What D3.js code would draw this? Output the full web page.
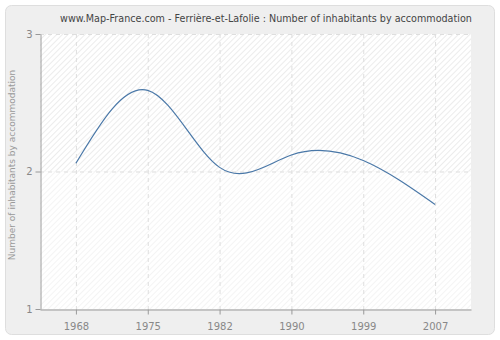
<!DOCTYPE html>
<html>
<head>
<meta charset="utf-8">
<script src="https://cdn.jsdelivr.net/npm/d3@7"></script>
<style>
  body { margin: 0; background: #fff; }
  svg text { font-family: "DejaVu Sans", sans-serif; }
</style>
</head>
<body>
<div id="chart"></div>
<script>
// data
const years = ["1968", "1975", "1982", "1990", "1999", "2007"];
const values = [2.06, 2.59, 2.03, 2.12, 2.08, 1.76];
const yTicks = [1, 2, 3];

const width = 500, height = 340;
const margin = { top: 34, right: 29, bottom: 31, left: 40 };

const svg = d3.select("#chart")
  .append("svg")
  .attr("width", width)
  .attr("height", height);

// outer panel
svg.append("rect")
  .attr("x", 5.5).attr("y", 5.5)
  .attr("width", 489).attr("height", 329)
  .attr("rx", 6)
  .attr("fill", "#efefef")
  .attr("stroke", "#dedede");

// hatch patterns for the plot background
const defs = svg.append("defs");
function hatch(id, color) {
  const p = defs.append("pattern")
    .attr("id", id)
    .attr("patternUnits", "userSpaceOnUse")
    .attr("width", 4).attr("height", 4)
    .attr("patternTransform", "rotate(45)");
  p.append("rect").attr("width", 4).attr("height", 4).attr("fill", "#fff");
  p.append("line")
    .attr("x1", 0).attr("y1", 0).attr("x2", 0).attr("y2", 4)
    .attr("stroke", color).attr("stroke-width", 1.3);
}
hatch("hatchTop", "#e3e3e3");
hatch("hatchBot", "#efefef");

const x = d3.scalePoint()
  .domain(years)
  .range([margin.left, width - margin.right])
  .padding(0.5);

const y = d3.scaleLinear()
  .domain([1, 3])
  .range([height - margin.bottom, margin.top]);

const plotW = width - margin.right - margin.left;

// background: above 2 and below 2
svg.append("rect")
  .attr("x", margin.left).attr("y", y(3))
  .attr("width", plotW).attr("height", y(2) - y(3))
  .attr("fill", "url(#hatchTop)");
svg.append("rect")
  .attr("x", margin.left).attr("y", y(2))
  .attr("width", plotW).attr("height", y(1) - y(2))
  .attr("fill", "url(#hatchBot)");

// grid lines
const grid = svg.append("g").attr("stroke", "#dedede").attr("stroke-dasharray", "4,4");
grid.selectAll("line.v")
  .data(years)
  .enter().append("line")
  .attr("class", "v")
  .attr("x1", d => x(d) + 0.5).attr("x2", d => x(d) + 0.5)
  .attr("y1", y(3)).attr("y2", y(1));
grid.selectAll("line.h")
  .data(yTicks.slice(1))
  .enter().append("line")
  .attr("class", "h")
  .attr("x1", margin.left).attr("x2", width - margin.right)
  .attr("y1", d => y(d) + 0.5).attr("y2", d => y(d) + 0.5);

// the line
const line = d3.line()
  .x((d, i) => x(years[i]))
  .y(d => y(d))
  .curve(d3.curveNatural);

svg.append("path")
  .datum(values)
  .attr("d", line)
  .attr("fill", "none")
  .attr("stroke", "#4a78a8")
  .attr("stroke-width", 1.2);

// axes
const xAxis = svg.append("g")
  .attr("transform", `translate(0,${y(1) + 0.5})`)
  .call(d3.axisBottom(x).tickSize(5).tickSizeOuter(0));
const yAxis = svg.append("g")
  .attr("transform", `translate(${margin.left + 0.5},0)`)
  .call(d3.axisLeft(y).tickValues(yTicks).tickFormat(d3.format("d")).tickSize(5).tickSizeOuter(0));

[xAxis, yAxis].forEach(a => {
  a.select(".domain").attr("stroke", "#999");
  a.selectAll(".tick line").attr("stroke", "#999");
  a.selectAll(".tick text").attr("fill", "#888").attr("font-size", 10)
    .attr("font-family", "DejaVu Sans, sans-serif");
});
xAxis.selectAll(".tick text").attr("dy", "1.2em");

// title
svg.append("text")
  .attr("x", 266).attr("y", 22)
  .attr("text-anchor", "middle")
  .attr("font-size", 9.6)
  .attr("fill", "#444")
  .text("www.Map-France.com - Ferrière-et-Lafolie : Number of inhabitants by accommodation");

// y label
svg.append("text")
  .attr("transform", `translate(15,165) rotate(-90)`)
  .attr("text-anchor", "middle")
  .attr("font-size", 9)
  .attr("fill", "#999")
  .text("Number of inhabitants by accommodation");
</script>
</body>
</html>
